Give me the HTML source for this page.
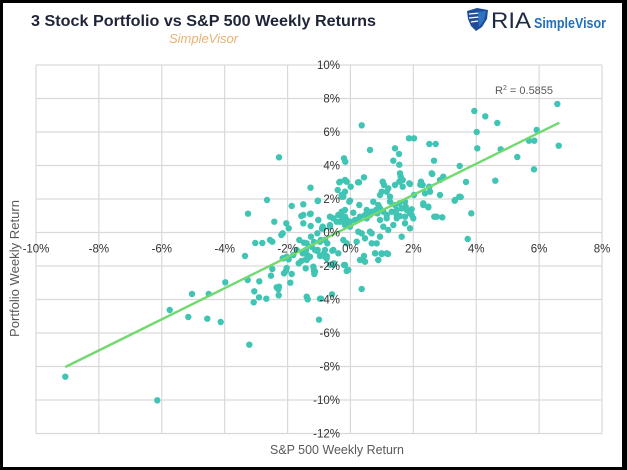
<!DOCTYPE html>
<html><head><meta charset="utf-8"><style>
html,body{margin:0;padding:0;background:#000;}
svg{display:block;}
</style></head><body>
<svg width="627" height="470" viewBox="0 0 627 470" xmlns="http://www.w3.org/2000/svg" font-family="Liberation Sans, Arial, sans-serif">
<rect x="0" y="0" width="627" height="470" fill="#000"/>
<rect x="3" y="3" width="619" height="464" fill="#fff"/>
<!-- title -->
<text x="31" y="26" font-size="16" font-weight="bold" fill="#1f2537" textLength="345" lengthAdjust="spacingAndGlyphs">3 Stock Portfolio vs S&amp;P 500 Weekly Returns</text>
<text x="169" y="43" font-size="13" font-style="italic" fill="#e9b16f" textLength="69" lengthAdjust="spacingAndGlyphs">SimpleVisor</text>
<!-- logo -->
<g>
<path d="M467,11 L477,8 L488,10 L487,19 L482,27 L476,31 L471,26 L468,19 Z" fill="#1f4e98"/>
<path d="M469,14 L480,13 M469,18 L479,17 M471,22 L478,21" stroke="#fff" stroke-width="1.2"/>
<path d="M478,12 L486,11 L484,20 L479,27 Z" fill="#2f74c4"/>
</g>
<text x="491" y="28" font-size="22" fill="#1d2a44" textLength="40" lengthAdjust="spacingAndGlyphs">RIA</text>
<text x="534" y="28" font-size="15" font-weight="bold" fill="#2271b9" textLength="72" lengthAdjust="spacingAndGlyphs">SimpleVisor</text>
<!-- grid -->
<g stroke="#d9d9d9" stroke-width="1.2" fill="none">
<line x1="36" y1="65" x2="36" y2="433.5"/>
<line x1="98.9" y1="65" x2="98.9" y2="433.5"/>
<line x1="161.8" y1="65" x2="161.8" y2="433.5"/>
<line x1="224.7" y1="65" x2="224.7" y2="433.5"/>
<line x1="287.6" y1="65" x2="287.6" y2="433.5"/>
<line x1="350.4" y1="65" x2="350.4" y2="433.5"/>
<line x1="413.3" y1="65" x2="413.3" y2="433.5"/>
<line x1="476.2" y1="65" x2="476.2" y2="433.5"/>
<line x1="539.1" y1="65" x2="539.1" y2="433.5"/>
<line x1="602" y1="65" x2="602" y2="433.5"/>
<line x1="36" y1="65" x2="602" y2="65"/>
<line x1="36" y1="98.5" x2="602" y2="98.5"/>
<line x1="36" y1="132" x2="602" y2="132"/>
<line x1="36" y1="165.5" x2="602" y2="165.5"/>
<line x1="36" y1="199" x2="602" y2="199"/>
<line x1="36" y1="232.5" x2="602" y2="232.5"/>
<line x1="36" y1="266" x2="602" y2="266"/>
<line x1="36" y1="299.5" x2="602" y2="299.5"/>
<line x1="36" y1="333" x2="602" y2="333"/>
<line x1="36" y1="366.5" x2="602" y2="366.5"/>
<line x1="36" y1="400" x2="602" y2="400"/>
<line x1="36" y1="433.5" x2="602" y2="433.5"/>
</g>
<!-- points -->
<g fill="#40c4b4">
<circle cx="557.3" cy="104" r="3.2"/><circle cx="558.7" cy="145.7" r="3.2"/><circle cx="474.3" cy="111" r="3.2"/><circle cx="485.3" cy="116.3" r="3.2"/><circle cx="497.3" cy="123" r="3.2"/><circle cx="476.7" cy="132" r="3.2"/><circle cx="536.7" cy="130" r="3.2"/><circle cx="529" cy="140.7" r="3.2"/><circle cx="534.3" cy="140.7" r="3.2"/><circle cx="477.3" cy="148.3" r="3.2"/><circle cx="500.7" cy="149.3" r="3.2"/><circle cx="517.3" cy="157" r="3.2"/><circle cx="534" cy="169.3" r="3.2"/><circle cx="495.3" cy="180.7" r="3.2"/><circle cx="459.7" cy="166" r="3.2"/><circle cx="466" cy="182" r="3.2"/><circle cx="460.7" cy="197" r="3.2"/><circle cx="454.7" cy="200.7" r="3.2"/><circle cx="471.3" cy="213.3" r="3.2"/><circle cx="467.7" cy="239" r="3.2"/><circle cx="361.7" cy="125.3" r="3.2"/><circle cx="370" cy="150" r="3.2"/><circle cx="409" cy="138.3" r="3.2"/><circle cx="414" cy="138.3" r="3.2"/><circle cx="429.3" cy="144" r="3.2"/><circle cx="435.7" cy="144" r="3.2"/><circle cx="395" cy="148.3" r="3.2"/><circle cx="399" cy="154" r="3.2"/><circle cx="393.3" cy="160.7" r="3.2"/><circle cx="399.3" cy="164.7" r="3.2"/><circle cx="434" cy="160.7" r="3.2"/><circle cx="344" cy="158.3" r="3.2"/><circle cx="345.3" cy="161.7" r="3.2"/>
<circle cx="400" cy="173.3" r="3.2"/><circle cx="400.7" cy="176.7" r="3.2"/><circle cx="402.7" cy="180" r="3.2"/><circle cx="399.3" cy="181.7" r="3.2"/><circle cx="431.7" cy="173.3" r="3.2"/><circle cx="443.3" cy="176.7" r="3.2"/><circle cx="440" cy="180" r="3.2"/><circle cx="364" cy="177.3" r="3.2"/><circle cx="359" cy="182.3" r="3.2"/><circle cx="345" cy="180" r="3.2"/><circle cx="340" cy="181.7" r="3.2"/><circle cx="346.7" cy="181.7" r="3.2"/><circle cx="382.7" cy="181.7" r="3.2"/><circle cx="384" cy="185" r="3.2"/><circle cx="388.3" cy="188.3" r="3.2"/><circle cx="386.7" cy="191.7" r="3.2"/><circle cx="381.7" cy="191.7" r="3.2"/><circle cx="380" cy="195" r="3.2"/><circle cx="390" cy="196.7" r="3.2"/><circle cx="395" cy="185" r="3.2"/><circle cx="402.7" cy="186.7" r="3.2"/><circle cx="409.3" cy="183.3" r="3.2"/><circle cx="421" cy="181.7" r="3.2"/><circle cx="422.7" cy="185" r="3.2"/><circle cx="429.3" cy="186.7" r="3.2"/><circle cx="350.7" cy="186.7" r="3.2"/><circle cx="345" cy="191.7" r="3.2"/><circle cx="341.7" cy="196.7" r="3.2"/><circle cx="350" cy="200.7" r="3.2"/><circle cx="414" cy="195" r="3.2"/><circle cx="425" cy="193.3" r="3.2"/><circle cx="430" cy="191.7" r="3.2"/><circle cx="440" cy="195" r="3.2"/><circle cx="455" cy="200" r="3.2"/><circle cx="459.3" cy="196.7" r="3.2"/><circle cx="423.3" cy="203.3" r="3.2"/><circle cx="428.3" cy="207.3" r="3.2"/><circle cx="434.3" cy="216.7" r="3.2"/><circle cx="442.3" cy="217.3" r="3.2"/><circle cx="373.3" cy="201.7" r="3.2"/><circle cx="378.3" cy="205" r="3.2"/><circle cx="380" cy="208.3" r="3.2"/><circle cx="376" cy="210" r="3.2"/><circle cx="371.7" cy="211.7" r="3.2"/><circle cx="366.7" cy="210" r="3.2"/><circle cx="370" cy="215" r="3.2"/><circle cx="377.3" cy="213.3" r="3.2"/><circle cx="383.3" cy="211.7" r="3.2"/><circle cx="390" cy="201.7" r="3.2"/><circle cx="395" cy="205" r="3.2"/><circle cx="399.3" cy="203.3" r="3.2"/><circle cx="405" cy="201.7" r="3.2"/><circle cx="401.7" cy="208.3" r="3.2"/><circle cx="396.7" cy="210" r="3.2"/><circle cx="391.7" cy="211.7" r="3.2"/><circle cx="406.7" cy="210" r="3.2"/><circle cx="410" cy="213.3" r="3.2"/><circle cx="411.7" cy="209.3" r="3.2"/><circle cx="400" cy="216" r="3.2"/><circle cx="396.7" cy="215" r="3.2"/><circle cx="359.3" cy="205" r="3.2"/><circle cx="360" cy="216.7" r="3.2"/><circle cx="365" cy="215" r="3.2"/><circle cx="353.3" cy="212.7" r="3.2"/><circle cx="345" cy="210" r="3.2"/><circle cx="341.7" cy="211.7" r="3.2"/><circle cx="386.7" cy="218.3" r="3.2"/><circle cx="413.3" cy="218.3" r="3.2"/><circle cx="318" cy="200.7" r="3.2"/><circle cx="410" cy="184" r="3.2"/><circle cx="405.7" cy="206.7" r="3.2"/><circle cx="411.7" cy="215" r="3.2"/><circle cx="405" cy="216.7" r="3.2"/><circle cx="432.3" cy="174" r="3.2"/><circle cx="420.3" cy="184.7" r="3.2"/>
<circle cx="303.3" cy="215" r="3.2"/><circle cx="310" cy="214" r="3.2"/><circle cx="318.3" cy="220" r="3.2"/><circle cx="322.7" cy="226.7" r="3.2"/><circle cx="330" cy="225" r="3.2"/><circle cx="333.3" cy="218.3" r="3.2"/><circle cx="338.3" cy="215" r="3.2"/><circle cx="340" cy="221.7" r="3.2"/><circle cx="345" cy="225" r="3.2"/><circle cx="350" cy="226.7" r="3.2"/><circle cx="355" cy="220" r="3.2"/><circle cx="358.3" cy="231.7" r="3.2"/><circle cx="361.7" cy="233.3" r="3.2"/><circle cx="370" cy="231.7" r="3.2"/><circle cx="365" cy="238.3" r="3.2"/><circle cx="356.7" cy="241.7" r="3.2"/><circle cx="343.3" cy="240" r="3.2"/><circle cx="346.7" cy="243.3" r="3.2"/><circle cx="333.3" cy="250" r="3.2"/><circle cx="338.3" cy="253.3" r="3.2"/><circle cx="320" cy="241.7" r="3.2"/><circle cx="315" cy="250" r="3.2"/><circle cx="306.7" cy="243.3" r="3.2"/><circle cx="302.7" cy="253.3" r="3.2"/><circle cx="306.7" cy="260" r="3.2"/><circle cx="313.3" cy="266.7" r="3.2"/><circle cx="315" cy="271.7" r="3.2"/><circle cx="326.7" cy="258.3" r="3.2"/><circle cx="333.3" cy="265" r="3.2"/><circle cx="345" cy="265" r="3.2"/><circle cx="348.3" cy="270" r="3.2"/><circle cx="360" cy="260" r="3.2"/><circle cx="365" cy="261.7" r="3.2"/><circle cx="378.3" cy="260" r="3.2"/><circle cx="371.7" cy="243.3" r="3.2"/><circle cx="376.7" cy="243.3" r="3.2"/><circle cx="381.7" cy="253.3" r="3.2"/><circle cx="386.7" cy="253.3" r="3.2"/><circle cx="375" cy="253.3" r="3.2"/><circle cx="380" cy="236.7" r="3.2"/><circle cx="383.3" cy="226.7" r="3.2"/><circle cx="388.3" cy="230" r="3.2"/><circle cx="393.3" cy="225" r="3.2"/><circle cx="396.7" cy="218.3" r="3.2"/><circle cx="401.7" cy="236.7" r="3.2"/><circle cx="410" cy="228.3" r="3.2"/><circle cx="405" cy="223.3" r="3.2"/><circle cx="380" cy="220" r="3.2"/><circle cx="386.7" cy="215" r="3.2"/><circle cx="371.7" cy="233.3" r="3.2"/><circle cx="366.7" cy="218.3" r="3.2"/><circle cx="423.3" cy="205" r="3.2"/><circle cx="428.3" cy="206.7" r="3.2"/><circle cx="436.7" cy="216.7" r="3.2"/>
<circle cx="361.7" cy="289" r="3.2"/><circle cx="364" cy="256" r="3.2"/><circle cx="375.3" cy="253.3" r="3.2"/><circle cx="381.7" cy="254" r="3.2"/><circle cx="388" cy="254" r="3.2"/><circle cx="378.3" cy="260" r="3.2"/><circle cx="310" cy="256.7" r="3.2"/><circle cx="325" cy="256.7" r="3.2"/><circle cx="314" cy="270" r="3.2"/><circle cx="314.3" cy="274" r="3.2"/><circle cx="344" cy="265" r="3.2"/><circle cx="346.7" cy="271" r="3.2"/><circle cx="332" cy="294.3" r="3.2"/><circle cx="321" cy="298.7" r="3.2"/><circle cx="319" cy="319.7" r="3.2"/><circle cx="332.3" cy="250.7" r="3.2"/>
<circle cx="245" cy="256" r="3.2"/><circle cx="225.3" cy="282.3" r="3.2"/><circle cx="220.7" cy="322" r="3.2"/><circle cx="249.3" cy="344.7" r="3.2"/><circle cx="247.7" cy="280" r="3.2"/><circle cx="259.3" cy="281.3" r="3.2"/><circle cx="254.3" cy="291.3" r="3.2"/><circle cx="253.7" cy="302.3" r="3.2"/><circle cx="259" cy="297.3" r="3.2"/><circle cx="266.3" cy="298.7" r="3.2"/><circle cx="271" cy="275.7" r="3.2"/><circle cx="272.3" cy="269" r="3.2"/><circle cx="276.7" cy="287.3" r="3.2"/><circle cx="279" cy="286.7" r="3.2"/><circle cx="278.3" cy="289.3" r="3.2"/><circle cx="278.7" cy="295.3" r="3.2"/><circle cx="282.7" cy="258.3" r="3.2"/><circle cx="284" cy="273.3" r="3.2"/><circle cx="286.7" cy="268" r="3.2"/><circle cx="286" cy="270.7" r="3.2"/><circle cx="291.7" cy="274" r="3.2"/><circle cx="290.3" cy="282.7" r="3.2"/><circle cx="288.7" cy="259.3" r="3.2"/><circle cx="298.7" cy="263.3" r="3.2"/><circle cx="301.3" cy="261" r="3.2"/><circle cx="306" cy="259.3" r="3.2"/><circle cx="308.7" cy="257.3" r="3.2"/><circle cx="305.7" cy="268.3" r="3.2"/><circle cx="314" cy="271" r="3.2"/><circle cx="306.7" cy="296.7" r="3.2"/><circle cx="307.7" cy="299.3" r="3.2"/><circle cx="320" cy="298.7" r="3.2"/><circle cx="320" cy="256" r="3.2"/><circle cx="323.3" cy="254" r="3.2"/><circle cx="326.7" cy="256" r="3.2"/><circle cx="330" cy="264.7" r="3.2"/><circle cx="334" cy="263.3" r="3.2"/><circle cx="317.3" cy="251" r="3.2"/><circle cx="325" cy="250" r="3.2"/><circle cx="65.3" cy="376.7" r="3.2"/><circle cx="157.3" cy="400.3" r="3.2"/><circle cx="169.7" cy="310" r="3.2"/><circle cx="188.3" cy="317" r="3.2"/><circle cx="192" cy="294" r="3.2"/><circle cx="208.7" cy="294" r="3.2"/><circle cx="207.3" cy="318.7" r="3.2"/>
<circle cx="279" cy="157.3" r="3.2"/><circle cx="310.5" cy="187.7" r="3.2"/><circle cx="267" cy="200" r="3.2"/><circle cx="248" cy="213.7" r="3.2"/><circle cx="291.7" cy="206" r="3.2"/><circle cx="303.3" cy="204.3" r="3.2"/><circle cx="301.3" cy="216" r="3.2"/><circle cx="310.7" cy="213.7" r="3.2"/><circle cx="317.7" cy="201" r="3.2"/><circle cx="318.3" cy="220" r="3.2"/><circle cx="274.3" cy="221.7" r="3.2"/><circle cx="286.3" cy="223.3" r="3.2"/><circle cx="288.7" cy="228.3" r="3.2"/><circle cx="281.3" cy="235" r="3.2"/><circle cx="282.7" cy="233.3" r="3.2"/><circle cx="303.3" cy="223.3" r="3.2"/><circle cx="310.7" cy="226" r="3.2"/><circle cx="255.3" cy="243" r="3.2"/><circle cx="262.3" cy="243" r="3.2"/><circle cx="270" cy="240" r="3.2"/><circle cx="272.3" cy="241.7" r="3.2"/><circle cx="299.3" cy="240" r="3.2"/><circle cx="311" cy="236.7" r="3.2"/><circle cx="322" cy="228.7" r="3.2"/><circle cx="325" cy="240" r="3.2"/><circle cx="330" cy="216.7" r="3.2"/><circle cx="339.3" cy="182.3" r="3.2"/><circle cx="345.7" cy="180.7" r="3.2"/><circle cx="337.7" cy="190" r="3.2"/><circle cx="341.7" cy="195" r="3.2"/><circle cx="343.3" cy="196.7" r="3.2"/><circle cx="349.3" cy="201.7" r="3.2"/><circle cx="358" cy="182.3" r="3.2"/><circle cx="340" cy="215" r="3.2"/><circle cx="345" cy="216.7" r="3.2"/><circle cx="342" cy="220" r="3.2"/><circle cx="346.7" cy="220" r="3.2"/><circle cx="336.7" cy="221.7" r="3.2"/><circle cx="350" cy="221.7" r="3.2"/><circle cx="356.7" cy="220" r="3.2"/><circle cx="330" cy="226.7" r="3.2"/><circle cx="323.3" cy="228.3" r="3.2"/><circle cx="317.3" cy="233.3" r="3.2"/><circle cx="320.7" cy="240" r="3.2"/><circle cx="311.7" cy="246.7" r="3.2"/><circle cx="306" cy="250" r="3.2"/><circle cx="307.3" cy="255" r="3.2"/><circle cx="296.7" cy="250" r="3.2"/><circle cx="293.3" cy="255" r="3.2"/><circle cx="286.7" cy="256.7" r="3.2"/><circle cx="283.3" cy="258.3" r="3.2"/><circle cx="327.3" cy="243.3" r="3.2"/><circle cx="304" cy="242.7" r="3.2"/><circle cx="314" cy="242" r="3.2"/><circle cx="317.7" cy="250" r="3.2"/>
</g>
<!-- trend line -->
<line x1="65.3" y1="367" x2="559.3" y2="122.7" stroke="#72d96f" stroke-width="2.4"/>
<!-- x tick labels -->
<g font-size="11.5" fill="#333" text-anchor="middle">
<text x="36" y="252.5">-10%</text>
<text x="98.9" y="252.5">-8%</text>
<text x="161.8" y="252.5">-6%</text>
<text x="224.7" y="252.5">-4%</text>
<text x="287.6" y="252.5">-2%</text>
<text x="350.4" y="252.5">0%</text>
<text x="413.3" y="252.5">2%</text>
<text x="476.2" y="252.5">4%</text>
<text x="539.1" y="252.5">6%</text>
<text x="602" y="252.5">8%</text>
</g>
<!-- y tick labels -->
<g font-size="11.5" fill="#333" text-anchor="end">
<text x="340" y="69">10%</text>
<text x="340" y="102.5">8%</text>
<text x="340" y="136">6%</text>
<text x="340" y="169.5">4%</text>
<text x="340" y="203">2%</text>
<text x="340" y="236.5">0%</text>
<text x="340" y="270">-2%</text>
<text x="340" y="303.5">-4%</text>
<text x="340" y="337">-6%</text>
<text x="340" y="370.5">-8%</text>
<text x="340" y="404">-10%</text>
<text x="340" y="437.5">-12%</text>
</g>
<!-- R2 -->
<text x="495" y="94" font-size="11" fill="#595959">R<tspan font-size="7" dy="-4">2</tspan><tspan dy="4"> = 0.5855</tspan></text>
<!-- axis titles -->
<text x="337" y="454" font-size="13" fill="#595959" text-anchor="middle" textLength="134" lengthAdjust="spacingAndGlyphs">S&amp;P 500 Weekly Return</text>
<text transform="translate(19,268.5) rotate(-90)" font-size="13" fill="#595959" text-anchor="middle" textLength="137" lengthAdjust="spacingAndGlyphs">Portfolio Weekly Return</text>
</svg>
</body></html>
